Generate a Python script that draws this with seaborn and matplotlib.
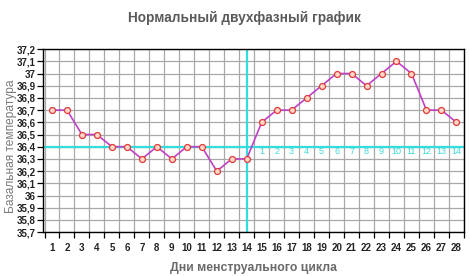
import matplotlib
matplotlib.use("Agg")
import matplotlib.pyplot as plt
import seaborn as sns
import pandas as pd
import numpy as np

days = list(range(1, 29))
temps = [36.7, 36.7, 36.5, 36.5, 36.4, 36.4, 36.3, 36.4, 36.3, 36.4,
         36.4, 36.2, 36.3, 36.3, 36.6, 36.7, 36.7, 36.8, 36.9, 37.0,
         37.0, 36.9, 37.0, 37.1, 37.0, 36.7, 36.7, 36.6]
phase2_labels = [str(i) for i in range(1, 15)]
phase2_days = list(range(15, 29))
ytick_vals = [35.7, 35.8, 35.9, 36.0, 36.1, 36.2, 36.3, 36.4, 36.5, 36.6, 36.7, 36.8, 36.9, 37.0, 37.1, 37.2]
ytick_labels = ["35,7", "35,8", "35,9", "36", "36,1", "36,2", "36,3", "36,4", "36,5",
                "36,6", "36,7", "36,8", "36,9", "37", "37,1", "37,2"]
cover_line = 36.4
ovulation_day = 14

df = pd.DataFrame({"day": days, "temp": temps})

sns.set_theme(style="white")
plt.rcParams['font.family'] = ['Liberation Sans', 'DejaVu Sans']

fig = plt.figure(figsize=(4.7, 2.76), dpi=100)
ax = fig.add_axes([0.0915, 0.159, 0.8955, 0.663])

# grid
for x in np.arange(0.5, 29, 1):
    ax.axvline(x, color='#a8a8a8', lw=0.9, zorder=0)
for y in ytick_vals:
    ax.axhline(y, color='#a8a8a8', lw=0.9, zorder=0)

ax.axhline(cover_line, color='#33dddd', lw=1.6, zorder=1)
ax.axvline(ovulation_day, color='#33dddd', lw=1.6, zorder=1)

sns.lineplot(data=df, x="day", y="temp", ax=ax, color='#c040c8', lw=1.2,
             marker='o', markersize=4.3, markerfacecolor='#ffd8c8',
             markeredgecolor='#e03a3a', markeredgewidth=0.9, zorder=3)

for d, lab in zip(phase2_days, phase2_labels):
    ax.text(d, cover_line - 0.037, lab, color='#40d8d8', fontsize=6.5,
            ha='center', va='center', zorder=2)

ax.set_xlim(0.4, 28.47)
ax.set_ylim(35.7, 37.2)
ax.set_yticks(ytick_vals)
ax.set_yticklabels(ytick_labels, fontsize=7, fontweight='bold', color='#222222')
ax.set_xticks(days)
ax.set_xticklabels([str(d) for d in days], fontsize=7, fontweight='bold', color='#222222')
ax.set_xticks(np.arange(0.5, 29, 1), minor=True)
ax.tick_params(axis='x', which='major', length=0, pad=8)
ax.tick_params(axis='x', which='minor', length=4, width=0.9, direction='out', color='black')
ax.tick_params(axis='y', which='major', length=4, width=0.9, direction='out', color='black', pad=1)
ax.xaxis.set_ticks_position('bottom')
ax.yaxis.set_ticks_position('left')
for s in ax.spines.values():
    s.set_color('black')
    s.set_linewidth(1.0)

ax.set_xlabel("Дни менструального цикла", fontsize=8.8, fontweight='bold', color='#6a6a6a', labelpad=6)
ax.set_ylabel("Базальная температура", fontsize=8.6, color='#7a7a7a', va='center')
ax.yaxis.set_label_coords(-0.077, 0.47)
fig.text(0.52, 0.935, "Нормальный двухфазный график", fontsize=9.8, fontweight='bold',
         color='#5a5a5a', ha='center', va='center')

fig.savefig("out.png", dpi=100)
